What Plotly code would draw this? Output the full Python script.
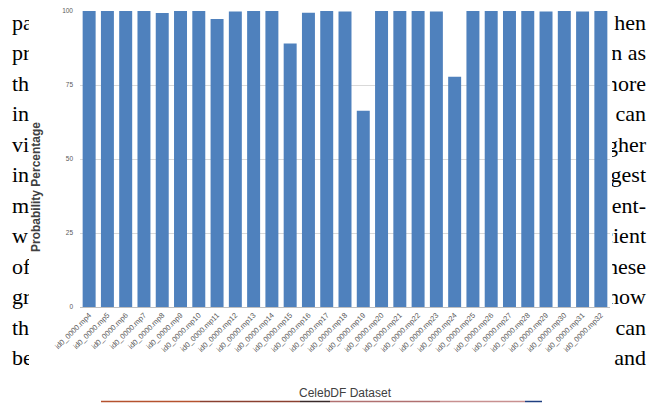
import plotly.graph_objects as go

W, H = 662, 403
OFF = 8  # the page body margin shifts the figure by this many pixels

# ---- data -------------------------------------------------------------
videos = ["id0_0000.mp4", "id0_0000.mp5", "id0_0000.mp6", "id0_0000.mp7",
          "id0_0000.mp8", "id0_0000.mp9", "id0_0000.mp10", "id0_0000.mp11",
          "id0_0000.mp12", "id0_0000.mp13", "id0_0000.mp14", "id0_0000.mp15",
          "id0_0000.mp16", "id0_0000.mp17", "id0_0000.mp18", "id0_0000.mp19",
          "id0_0000.mp20", "id0_0000.mp21", "id0_0000.mp22", "id0_0000.mp23",
          "id0_0000.mp24", "id0_0000.mp25", "id0_0000.mp26", "id0_0000.mp27",
          "id0_0000.mp28", "id0_0000.mp29", "id0_0000.mp30", "id0_0000.mp31",
          "id0_0000.mp32"]
probability = [100, 100, 100, 100, 99.3, 100, 100, 97.3, 99.8, 100, 100, 89.0,
               99.4, 100, 99.8, 66.3, 100, 100, 100, 99.8, 77.8, 100, 100, 100,
               100, 99.8, 100, 99.8, 100]
y_ticks = [0, 25, 50, 75, 100]

# surrounding page text (only fragments are visible behind the figure)
left_words = ["part", "pre", "the", "in", "vis", "in", "m", "w", "of", "gr", "th", "be"]
right_words = ["hen", "on as", "more", "can", "higher", "suggest", "ment-",
               "efficient", "these", "how", "can", "and"]
line_y = [24, 54.5, 85, 115.5, 146, 176.5, 207, 237.5, 268, 298.5, 329, 359.5]

# ---- layout helpers (window pixels -> paper fractions) -------------------
PL, PR, PT, PB = 80, 610, 11, 307   # plot area in window pixels


def px_x(v):
    return (v - OFF) / W


def px_y(v):
    return 1 - (v - OFF) / H


fig = go.Figure()

fig.add_trace(go.Bar(
    x=videos, y=probability,
    marker=dict(color="#4f81bd", line=dict(width=0)),
    xaxis="x", yaxis="y", showlegend=False,
))

serif = dict(family="Liberation Serif", size=22, color="#000000")
# strip axes are laid out in window pixels
fig.add_trace(go.Scatter(
    x=[12] * len(left_words), y=line_y, text=left_words, mode="text",
    textposition="middle right", textfont=serif, cliponaxis=True,
    xaxis="x2", yaxis="y2", showlegend=False, hoverinfo="skip",
))
fig.add_trace(go.Scatter(
    x=[646] * len(right_words), y=line_y, text=right_words, mode="text",
    textposition="middle left", textfont=serif, cliponaxis=True,
    xaxis="x3", yaxis="y3", showlegend=False, hoverinfo="skip",
))

hidden = dict(visible=False, fixedrange=True, showgrid=False, zeroline=False,
              automargin=False)

fig.update_layout(
    width=W, height=H,
    margin=dict(l=0, r=0, t=0, b=0, pad=0, autoexpand=False),
    paper_bgcolor="white", plot_bgcolor="rgba(0,0,0,0)",
    bargap=0.29,
    font=dict(family="Liberation Sans", color="#595959"),
    xaxis=dict(
        domain=[px_x(PL), px_x(PR)], anchor="y", automargin=False,
        tickangle=-45, tickfont=dict(size=7.5, color="#595959"),
        showline=True, linecolor="#bfbfbf", linewidth=1,
        ticks="", showgrid=False, fixedrange=True, ticklabeloverflow="allow",
    ),
    yaxis=dict(
        domain=[px_y(PB), px_y(PT)], anchor="x", automargin=False,
        range=[0, 100], tickvals=y_ticks,
        tickfont=dict(size=6.5, color="#595959"),
        showgrid=True, gridcolor="#d9d9d9", gridwidth=1,
        zeroline=False, ticks="", ticklabelstandoff=6, fixedrange=True,
        ticklabeloverflow="allow",
    ),
    xaxis2=dict(domain=[0, px_x(29)], range=[OFF, 29], anchor="y2", **hidden),
    yaxis2=dict(domain=[0, 1], range=[H + OFF, OFF], anchor="x2", **hidden),
    xaxis3=dict(domain=[px_x(612), px_x(W)], range=[612, W], anchor="y3", **hidden),
    yaxis3=dict(domain=[0, 1], range=[H + OFF, OFF], anchor="x3", **hidden),
    annotations=[
        dict(text="<b>Probability Percentage</b>", textangle=-90,
             x=px_x(36), y=px_y(187), xref="paper", yref="paper",
             xanchor="center", yanchor="middle", showarrow=False,
             font=dict(size=12, color="#404040", family="Liberation Sans"),
             ),
        dict(text="CelebDF Dataset",
             x=px_x(345), y=px_y(393), xref="paper", yref="paper",
             xanchor="center", yanchor="middle", showarrow=False,
             font=dict(size=12, color="#404040", family="Liberation Sans")),
    ],
)

# thin coloured edge of the next figure on the page
segments = [(101, 200, "#b5522e"), (200, 300, "#8a4030"), (300, 330, "#3a2a2a"),
            (330, 440, "#b07070"), (440, 525, "#c89090"), (525, 542, "#1f3f80")]
for x0, x1, c in segments:
    fig.add_shape(type="line", xref="paper", yref="paper",
                  x0=px_x(x0), x1=px_x(x1), y0=px_y(401.5), y1=px_y(401.5),
                  line=dict(color=c, width=1.5))

fig.write_html("out.html")
